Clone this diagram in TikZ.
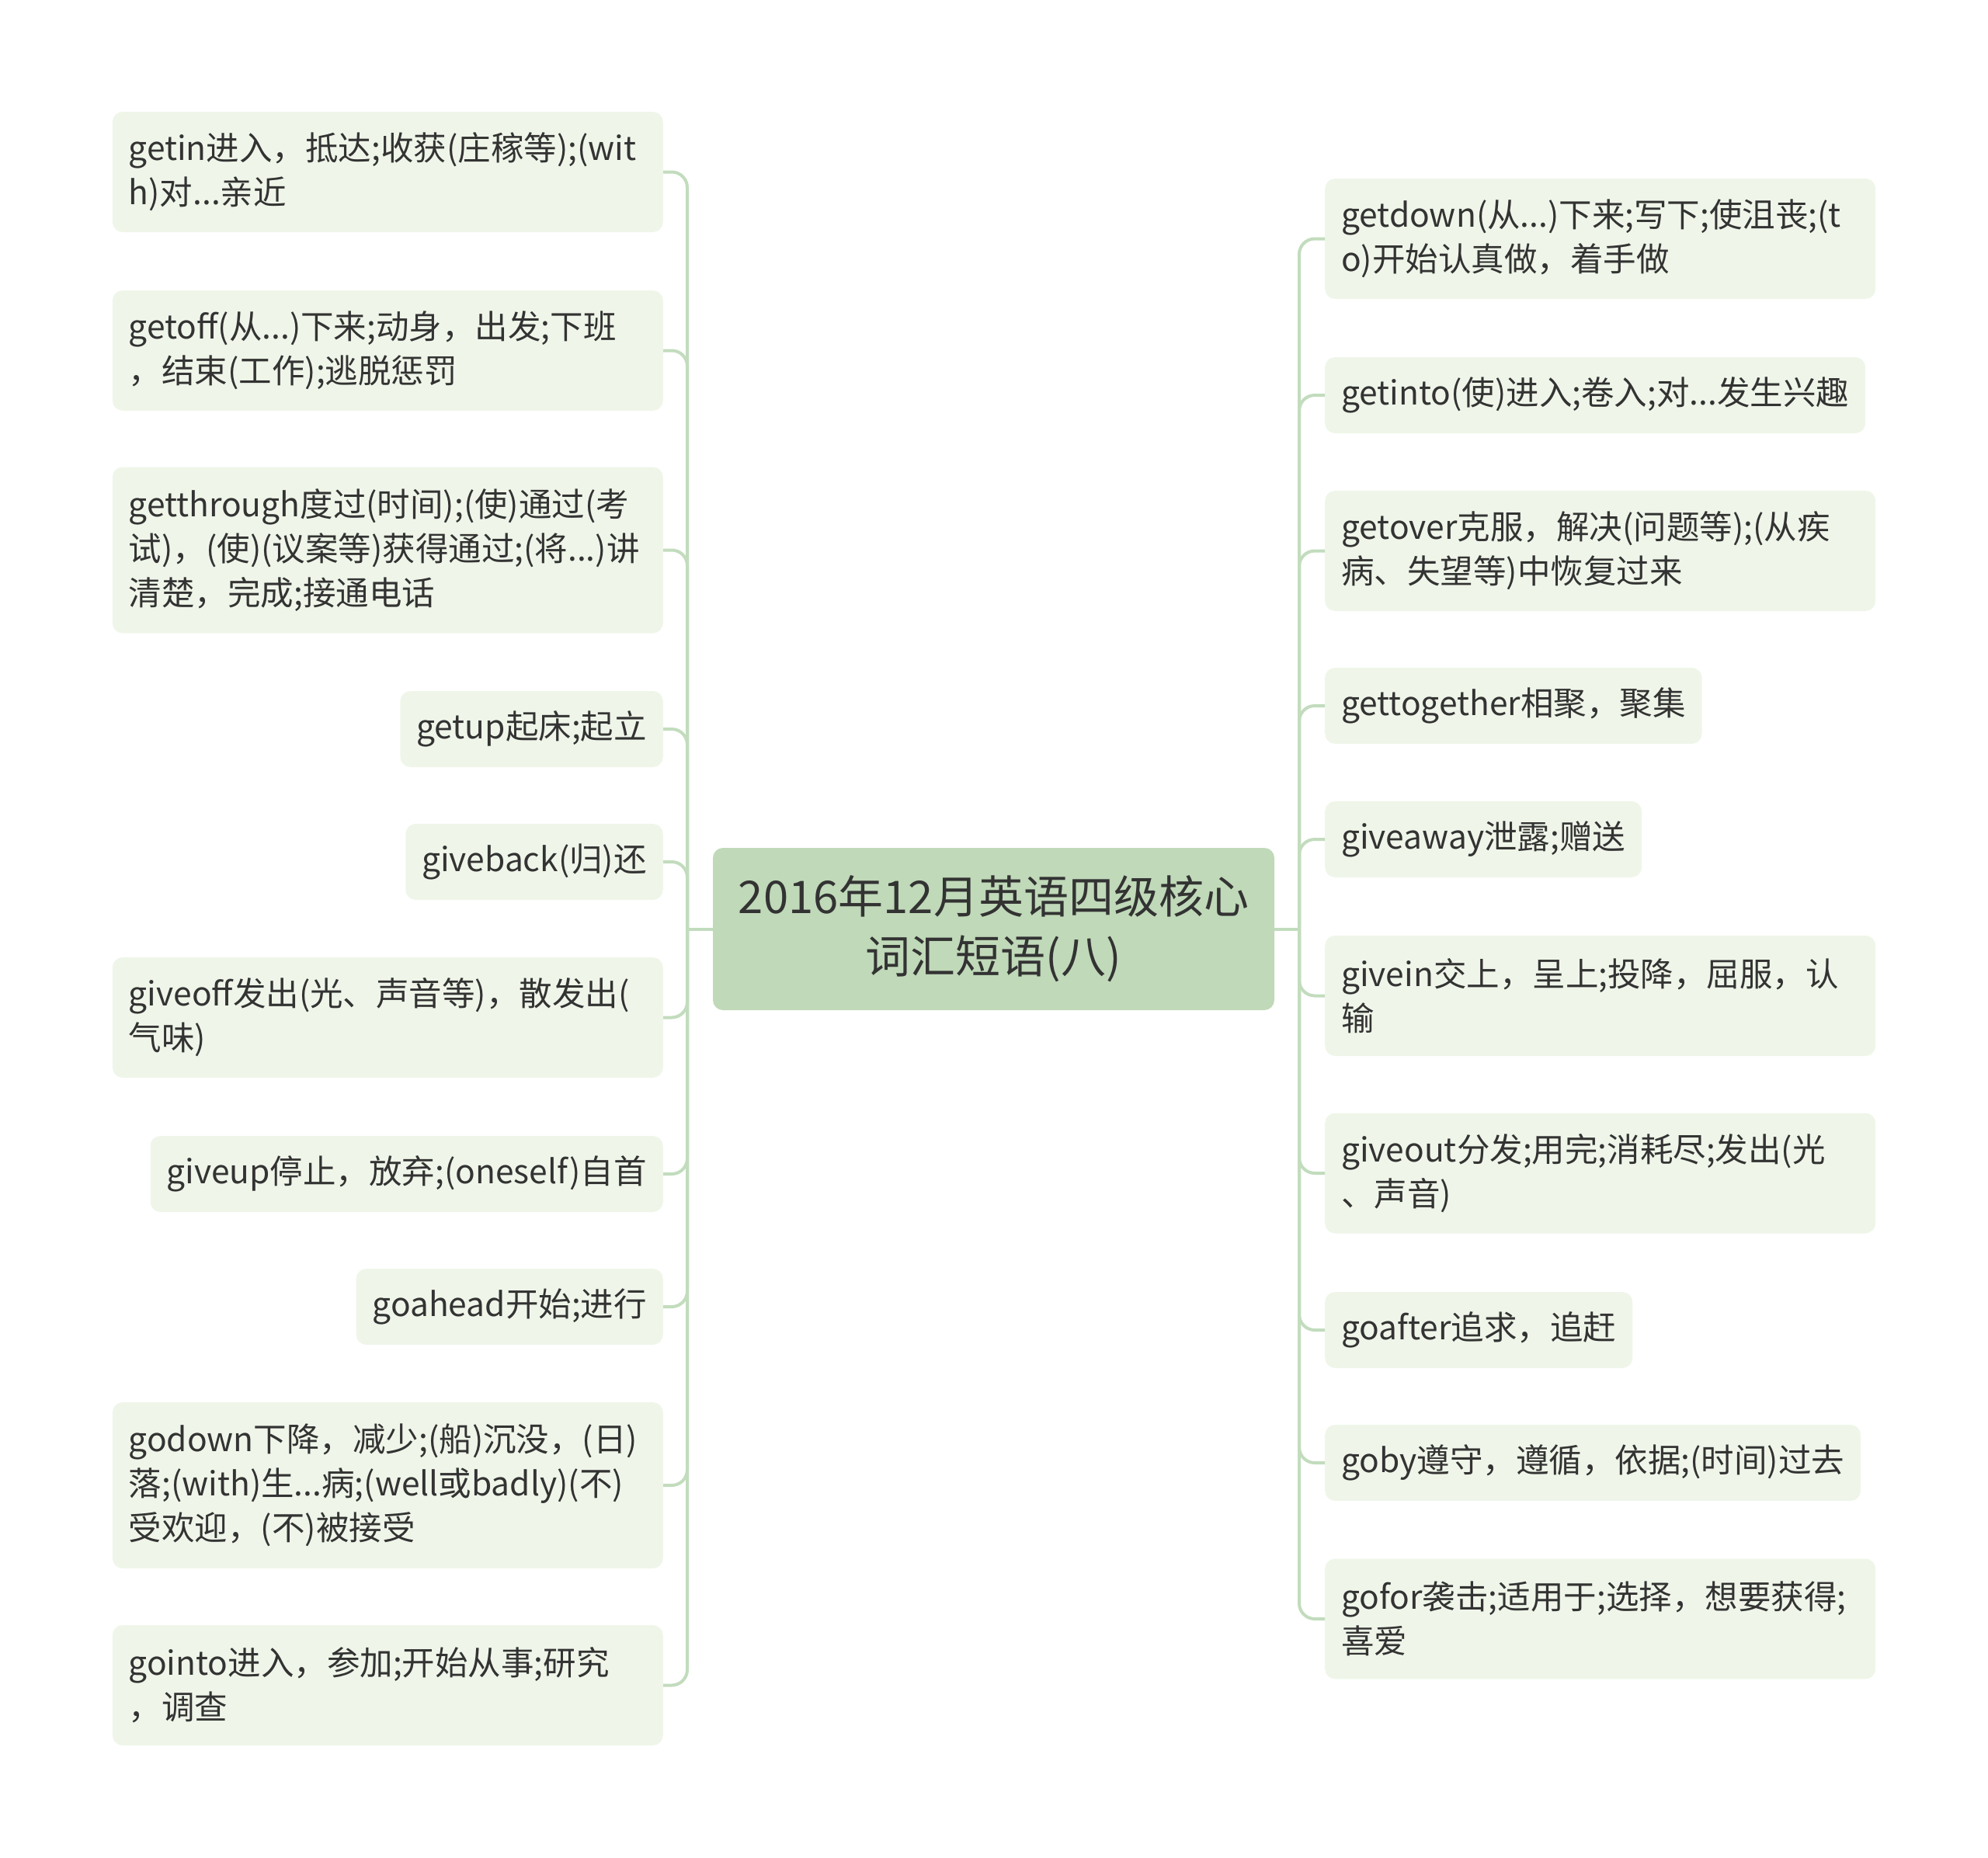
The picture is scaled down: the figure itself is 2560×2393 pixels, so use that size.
\documentclass[tikz,border=0pt]{standalone}
\usepackage{fontspec}
\setmainfont{Noto Sans CJK SC}
\definecolor{rootgreen}{HTML}{C0D9B9}
\definecolor{leafgreen}{HTML}{EFF6E9}
\definecolor{linkgreen}{HTML}{C2DCBD}
\definecolor{textgray}{HTML}{333333}
\tikzset{
  leaf/.style={fill=leafgreen, rounded corners=13pt, inner xsep=21pt, inner ysep=0pt,
    align=left, text=textgray, font=\fontsize{42.5}{57}\selectfont},
  oneline/.style={leaf, minimum height=98pt},
  twoline/.style={leaf, minimum height=155pt, text width=667pt},
  threeline/.style={leaf, minimum height=214pt, text width=667pt},
  topic/.style={fill=rootgreen, rounded corners=13pt, align=center, text=textgray,
    minimum width=723pt, minimum height=209pt, font=\fontsize{58}{77}\selectfont},
  link/.style={draw=linkgreen, line width=4pt, rounded corners=20pt},
}
\begin{document}
\begin{tikzpicture}[x=1pt,y=-1pt]
			\useasboundingbox (0,0) rectangle (2560,2393);
			\node[topic] (root) at (1279.5,1196.5) {2016年12月英语四级核心\\词汇短语(八)};
			\path (885,1196.5) coordinate (lhub);
			\path (1673,1196.5) coordinate (rhub);
			% left side
			\node[twoline, anchor=east] (getin) at (854,221.5) {getin进入，抵达;收获(庄稼等);(wit\\h)对...亲近};
			\node[twoline, anchor=east] (getoff) at (854,451.5) {getoff(从...)下来;动身，出发;下班\\，结束(工作);逃脱惩罚};
			\node[threeline, anchor=east] (getthrough) at (854,708.5) {getthrough度过(时间);(使)通过(考\\试)，(使)(议案等)获得通过;(将...)讲\\清楚，完成;接通电话};
			\node[oneline, anchor=east] (getup) at (854,939) {getup起床;起立};
			\node[oneline, anchor=east] (giveback) at (854,1110) {giveback(归)还};
			\node[twoline, anchor=east] (giveoff) at (854,1310.5) {giveoff发出(光、声音等)，散发出(\\气味)};
			\node[oneline, anchor=east] (giveup) at (854,1512) {giveup停止，放弃;(oneself)自首};
			\node[oneline, anchor=east] (goahead) at (854,1683) {goahead开始;进行};
			\node[threeline, anchor=east] (godown) at (854,1913) {godown下降，减少;(船)沉没，(日)\\落;(with)生...病;(well或badly)(不)\\受欢迎，(不)被接受};
			\node[twoline, anchor=east] (gointo) at (854,2170.5) {gointo进入，参加;开始从事;研究\\，调查};
			% right side
			\node[twoline, anchor=west] (getdown) at (1706,307.5) {getdown(从...)下来;写下;使沮丧;(t\\o)开始认真做，着手做};
			\node[oneline, anchor=west] (getinto) at (1706,509) {getinto(使)进入;卷入;对...发生兴趣};
			\node[twoline, anchor=west] (getover) at (1706,709.5) {getover克服，解决(问题等);(从疾\\病、失望等)中恢复过来};
			\node[oneline, anchor=west] (gettogether) at (1706,909) {gettogether相聚，聚集};
			\node[oneline, anchor=west] (giveaway) at (1706,1081) {giveaway泄露;赠送};
			\node[twoline, anchor=west] (givein) at (1706,1282.5) {givein交上，呈上;投降，屈服，认\\输};
			\node[twoline, anchor=west] (giveout) at (1706,1511) {giveout分发;用完;消耗尽;发出(光\\、声音)};
			\node[oneline, anchor=west] (goafter) at (1706,1713) {goafter追求，追赶};
			\node[oneline, anchor=west] (goby) at (1706,1884) {goby遵守，遵循，依据;(时间)过去};
			\node[twoline, anchor=west] (gofor) at (1706,2085) {gofor袭击;适用于;选择，想要获得;\\喜爱};
			% connectors
			\draw[link] (root.west) -- (lhub);
			\draw[link] (root.east) -- (rhub);
			\draw[link] (lhub) |- (getin.east);
			\draw[link] (lhub) |- (getoff.east);
			\draw[link] (lhub) |- (getthrough.east);
			\draw[link] (lhub) |- (getup.east);
			\draw[link] (lhub) |- (giveback.east);
			\draw[link] (lhub) |- (giveoff.east);
			\draw[link] (lhub) |- (giveup.east);
			\draw[link] (lhub) |- (goahead.east);
			\draw[link] (lhub) |- (godown.east);
			\draw[link] (lhub) |- (gointo.east);
			\draw[link] (rhub) |- (getdown.west);
			\draw[link] (rhub) |- (getinto.west);
			\draw[link] (rhub) |- (getover.west);
			\draw[link] (rhub) |- (gettogether.west);
			\draw[link] (rhub) |- (giveaway.west);
			\draw[link] (rhub) |- (givein.west);
			\draw[link] (rhub) |- (giveout.west);
			\draw[link] (rhub) |- (goafter.west);
			\draw[link] (rhub) |- (goby.west);
			\draw[link] (rhub) |- (gofor.west);
		\end{tikzpicture}
\end{document}
